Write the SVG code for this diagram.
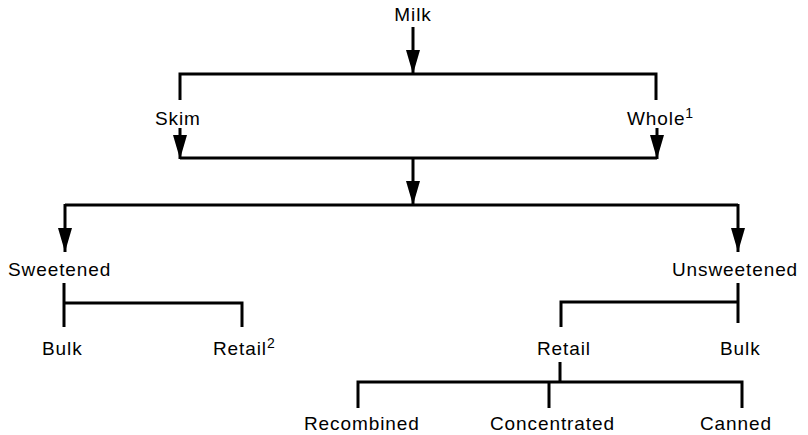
<svg xmlns="http://www.w3.org/2000/svg" width="808" height="435" viewBox="0 0 808 435">
  <style>
    .lbl { font-family: "Liberation Sans", Arial, Helvetica, sans-serif; font-size: 19px; letter-spacing: 0.9px; fill: #000; }
    .sup { font-size: 14px; letter-spacing: 0; }
    .ln { fill: none; stroke: #000; stroke-width: 3; stroke-linejoin: miter; stroke-linecap: butt; }
    .arr { fill: none; stroke: #000; stroke-width: 3; marker-end: url(#head); }
  </style>
  <defs>
    <marker id="head" viewBox="0 0 24 14" refX="24" refY="7" markerWidth="24" markerHeight="14" markerUnits="userSpaceOnUse" orient="auto">
      <path d="M0,0 L24,7 L0,14 Z" fill="#000"/>
    </marker>
  </defs>
  <rect width="808" height="435" fill="#fff"/>

  <!-- connectors -->
  <g id="connectors">
    <line class="arr" x1="413" y1="27" x2="413" y2="74"/>
    <path class="ln" d="M180,100 V74 H656 V100"/>
    <line class="arr" x1="180" y1="128" x2="180" y2="159"/>
    <line class="arr" x1="657" y1="128" x2="657" y2="159"/>
    <path class="ln" d="M180,158 H657"/>
    <line class="arr" x1="413" y1="158" x2="413" y2="205"/>
    <path class="ln" d="M65,205 H738"/>
    <line class="arr" x1="65" y1="204" x2="65" y2="252"/>
    <line class="arr" x1="738" y1="204" x2="738" y2="252"/>
    <path class="ln" d="M64,283 V327 M64,303 H242 V327"/>
    <path class="ln" d="M738,283 V323 M738,302 H561 V327"/>
    <path class="ln" d="M560,362 V382 M358,408 V382 H742 V408 M549,382 V408"/>
  </g>

  <!-- nodes -->
  <g id="milk"><text class="lbl" x="413" y="21" text-anchor="middle">Milk</text></g>
  <g id="skim"><text class="lbl" x="155" y="125">Skim</text></g>
  <g id="whole"><text class="lbl" x="627" y="125">Whole<tspan class="sup" dy="-7">1</tspan></text></g>
  <g id="sweetened"><text class="lbl" x="8" y="276">Sweetened</text></g>
  <g id="unsweetened"><text class="lbl" x="672" y="276">Unsweetened</text></g>
  <g id="sweet-bulk"><text class="lbl" x="42" y="355">Bulk</text></g>
  <g id="sweet-retail"><text class="lbl" x="213" y="355">Retail<tspan class="sup" dy="-7">2</tspan></text></g>
  <g id="unsweet-retail"><text class="lbl" x="537" y="355">Retail</text></g>
  <g id="unsweet-bulk"><text class="lbl" x="720" y="355">Bulk</text></g>
  <g id="recombined"><text class="lbl" x="304" y="430">Recombined</text></g>
  <g id="concentrated"><text class="lbl" x="490" y="430">Concentrated</text></g>
  <g id="canned"><text class="lbl" x="700" y="430">Canned</text></g>
</svg>
